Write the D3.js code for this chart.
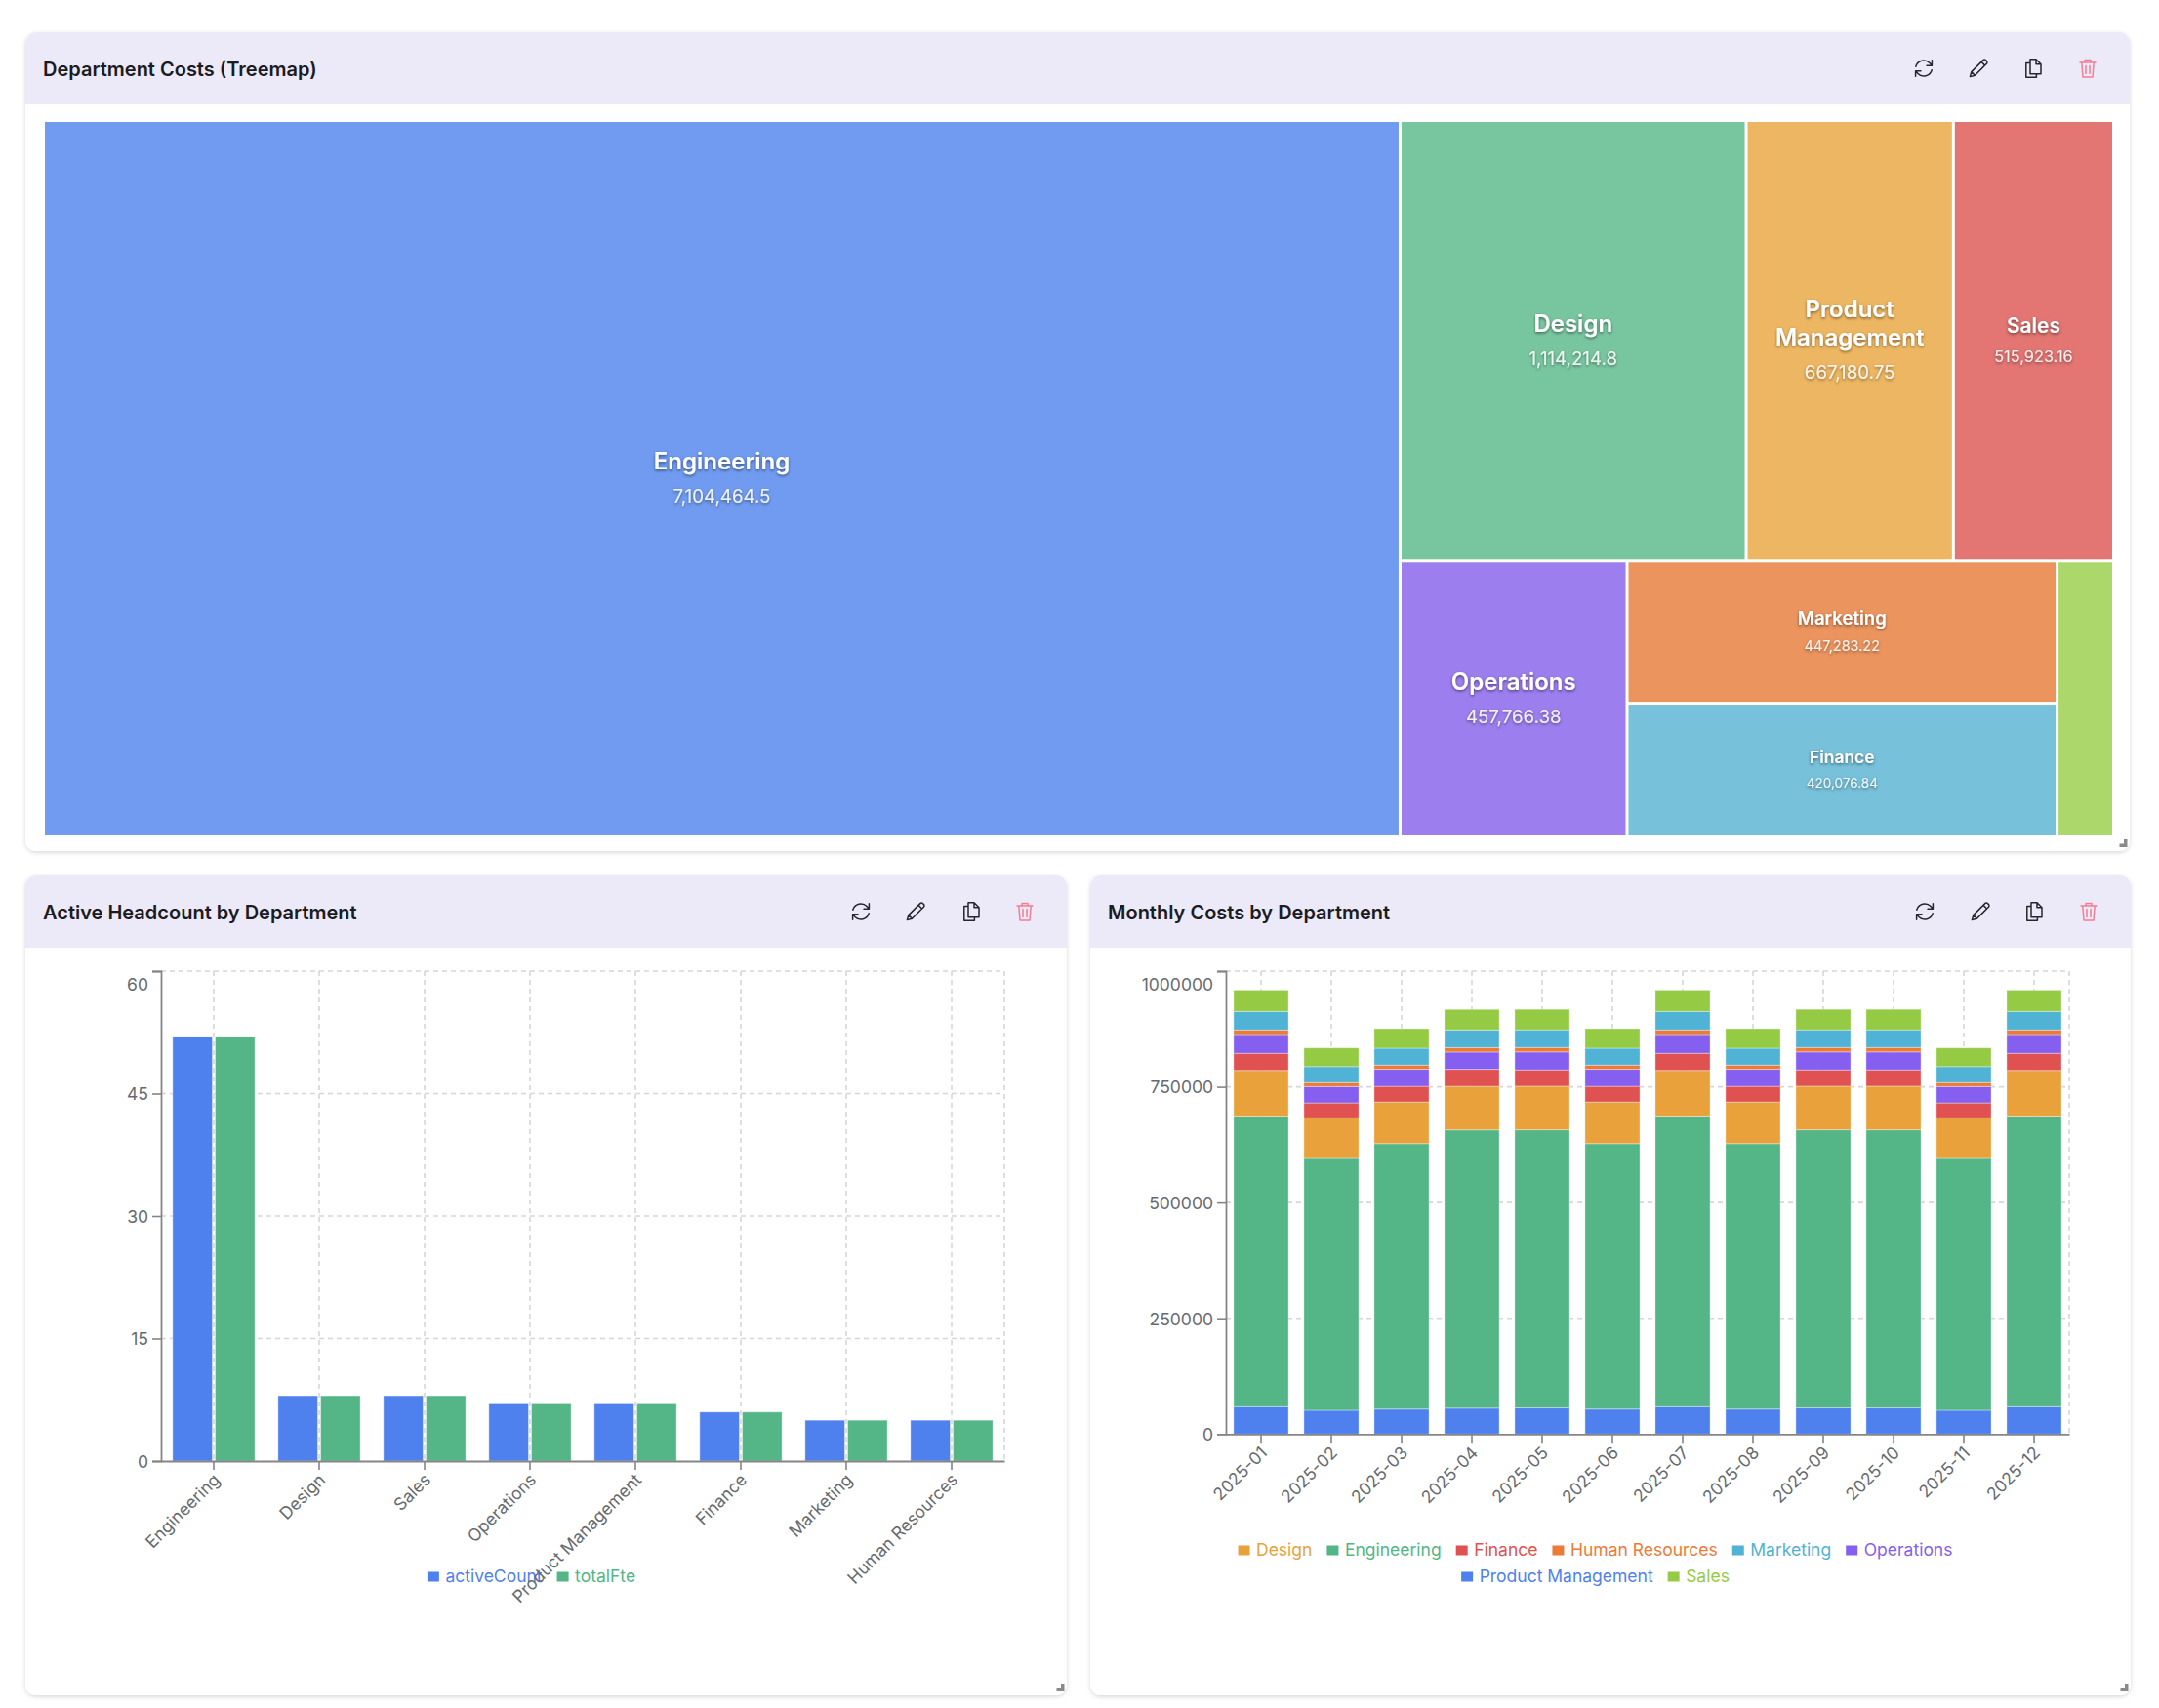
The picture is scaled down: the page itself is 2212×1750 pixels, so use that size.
<!DOCTYPE html>
<html><head><meta charset="utf-8">
<script src="https://cdnjs.cloudflare.com/ajax/libs/d3/7.8.5/d3.min.js"></script>
<style>
html,body{margin:0;padding:0;background:#fff}
svg{display:block;font-family:Inter,"Noto Sans",sans-serif}
</style></head><body><svg id="c" width="2212" height="1750"></svg>
<script>
// ---- data ----
const treeNames = ["Engineering","Design","Product Management","Sales","Operations","Marketing","Finance","Human Resources"];
const treeCosts = [7104464.5,1114214.8,667180.75,515923.16,457766.38,447283.22,420076.84,114000];
const treeLabels = ["7,104,464.5","1,114,214.8","667,180.75","515,923.16","457,766.38","447,283.22","420,076.84",""];
const hcDepts = ["Engineering","Design","Sales","Operations","Product Management","Finance","Marketing","Human Resources"];
const activeCount = [52,8,8,7,7,6,5,5];
const totalFte = [52,8,8,7,7,6,5,5];
const hcTicks = [0,15,30,45,60];
const months = ["2025-01","2025-02","2025-03","2025-04","2025-05","2025-06","2025-07","2025-08","2025-09","2025-10","2025-11","2025-12"];
const costTicks = [0,250000,500000,750000,1000000];
const costProduct = [59000,51300,53900,55900,56400,53900,59000,53900,56400,56400,51300,59000];
const costEngineering = [628000,546100,573400,601000,600700,573400,628000,573400,600700,600700,546100,628000];
const costDesign = [98500,85650,89900,94200,94200,89900,98500,89900,94200,94200,85650,98500];
const costFinance = [37000,32200,33800,36800,35400,33800,37000,33800,35400,35400,32200,37000];
const costOperations = [40500,35200,37000,37300,38700,37000,40500,37000,38700,38700,35200,40500];
const costHR = [10000,8700,9100,9600,9600,9100,10000,9100,9600,9600,8700,10000];
const costMarketing = [39800,34600,36300,38100,38100,36300,39800,36300,38100,38100,34600,39800];
const costSales = [46300,40300,42300,44300,44300,42300,46300,42300,44300,44300,40300,46300];
const legendOrder = ["Design","Engineering","Finance","Human Resources","Marketing","Operations","Product Management","Sales"];

// ---- styles ----
const BLUE="#4f81ee",GREEN="#54b686",AMBER="#e9a23b",RED="#e05252",PURPLE="#8560f0",ORANGE="#ec7b38",CYAN="#50b2d4",LIME="#95cb44";
const treeColor = {"Engineering":"#709bf0","Design":"#78c6a0","Product Management":"#edb662","Sales":"#e37572","Operations":"#9c7eee","Marketing":"#ec945e","Finance":"#77c1da","Human Resources":"#abd76b"};
const deptColor = {"Design":AMBER,"Engineering":GREEN,"Finance":RED,"Human Resources":ORANGE,"Marketing":CYAN,"Operations":PURPLE,"Product Management":BLUE,"Sales":LIME};
const AXIS="#858585",GRID="#d6d6d6",TICKTEXT="#666a70",FS=17.5;

const svg = d3.select("#c");
const defs = svg.append("defs");
const cf = defs.append("filter").attr("id","cardShadow").attr("x","-3%").attr("y","-3%").attr("width","106%").attr("height","106%");
cf.append("feDropShadow").attr("dx",0).attr("dy",1.5).attr("stdDeviation",2.2).attr("flood-color","#000").attr("flood-opacity",0.16);
const tf = defs.append("filter").attr("id","textShadow").attr("x","-20%").attr("y","-40%").attr("width","140%").attr("height","190%");
tf.append("feDropShadow").attr("dx",0).attr("dy",1.4).attr("stdDeviation",1.4).attr("flood-color","#000").attr("flood-opacity",0.5);

const ICONS=[
 {d:"M3.8 10.2A8.4 8.4 0 0 1 18 6.6L20.2 9 M20.4 3.8V9.2H15 M20.2 13.8A8.4 8.4 0 0 1 6 17.4L3.8 15 M3.6 20.2V14.8H9",c:"#26262c"},
 {d:"M3.4 20.6 4.8 15.6 16.8 3.6A1.8 1.8 0 0 1 19.4 3.6L20.4 4.6A1.8 1.8 0 0 1 20.4 7.2L8.4 19.2Z M15 5.4 18.6 9 M4.8 15.6 8.4 19.2",c:"#26262c"},
 {d:"M9 2.8H15L20 7.8V17.8H9Z M15 2.8V7.8H20 M9 6.6H4.8V21.2H15.4V17.8",c:"#26262c"},
 {d:"M4 6H20 M9 6V3.6H15V6 M5.8 6 7 21H17L18.2 6 M10 9.6V17.4 M14 9.6V17.4",c:"#f47e92"}
];
function card(x0,y0,x1,y1,title,iconXs){
  const r=11,hb=y0+74,g=svg.append("g");
  g.append("rect").attr("x",x0).attr("y",y0).attr("width",x1-x0).attr("height",y1-y0).attr("rx",r)
    .attr("fill","#fff").attr("filter","url(#cardShadow)");
  g.append("path").attr("d",`M${x0} ${hb}V${y0+r}A${r} ${r} 0 0 1 ${x0+r} ${y0}H${x1-r}A${r} ${r} 0 0 1 ${x1} ${y0+r}V${hb}Z`).attr("fill","#ece9f9");
  g.append("text").attr("x",x0+18).attr("y",y0+38).attr("dy","0.35em").attr("font-size",20).attr("font-weight",600).attr("fill","#1b1b22").text(title);
  iconXs.forEach((ix,i)=>{
    g.append("path").attr("transform",`translate(${ix-12},${y0+37-12})`).attr("d",ICONS[i].d)
     .attr("fill","none").attr("stroke",ICONS[i].c).attr("stroke-width",1.5).attr("stroke-linejoin","round").attr("stroke-linecap","round");
  });
  g.append("path").attr("d",`M${x1-6} ${y1-12}h3.5v8h-8v-3.5h4.5z`).attr("fill","#8a8a8a");
}
card(26,33,2182,872,"Department Costs (Treemap)",[1971,2027,2083,2139]);
card(26,897,1093,1737,"Active Headcount by Department",[882,938,995,1050]);
card(1117,897,2183,1737,"Monthly Costs by Department",[1972,2029,2084,2140]);

// ---- treemap ----
const root = d3.hierarchy({children:treeNames.map((n,i)=>({name:n,value:treeCosts[i],label:treeLabels[i]}))}).sum(d=>d.value||0);
d3.treemap().size([2115+3,728+3]).paddingInner(3).tile(d3.treemapSquarify)(root);
const tmG = svg.append("g").attr("transform","translate(46,125)");
const cell = tmG.selectAll("g").data(root.leaves()).join("g");
cell.append("rect").attr("x",d=>d.x0).attr("y",d=>d.y0).attr("width",d=>d.x1-d.x0).attr("height",d=>d.y1-d.y0).attr("fill",d=>treeColor[d.data.name]);
cell.each(function(d){
  const w=d.x1-d.x0,h=d.y1-d.y0; if(w<80) return;
  const fs=Math.min(24,Math.min(w,h)*0.13), vfs=fs*0.78, g=d3.select(this).append("g").attr("filter","url(#textShadow)").attr("fill","#fff").attr("text-anchor","middle");
  const lines = d.data.name.length*fs*0.56>w ? d.data.name.split(" ") : [d.data.name];
  const lh=fs*1.22, cx=(d.x0+d.x1)/2, cy=(d.y0+d.y1)/2, gap=fs*1.5;
  const top=cy-((lines.length-1)*lh+gap)/2;
  lines.forEach((t,i)=>g.append("text").attr("x",cx).attr("y",top+i*lh).attr("dy","0.35em").attr("font-size",fs).attr("font-weight",600).text(t));
  g.append("text").attr("x",cx).attr("y",top+(lines.length-1)*lh+gap).attr("dy","0.35em").attr("font-size",vfs).attr("fill-opacity",0.88).text(d.data.label);
});

// ---- shared helpers ----
function frame(xScale,yScale,ticks,fmt){
  const [y0,y1]=yScale.range(), x0=xScale.range()[0], x1=xScale.range()[1];
  const grid=svg.append("g").attr("fill","none").attr("stroke",GRID).attr("stroke-width",1.6).attr("stroke-dasharray","5 4");
  ticks.filter(t=>t>0).forEach(t=>grid.append("line").attr("x1",x0).attr("x2",x1).attr("y1",yScale(t)).attr("y2",yScale(t)));
  xScale.domain().forEach(v=>{const x=xScale(v)+xScale.bandwidth()/2;grid.append("line").attr("x1",x).attr("x2",x).attr("y1",y1).attr("y2",y0);});
  grid.append("line").attr("x1",x1).attr("x2",x1).attr("y1",y1).attr("y2",y0);
}
function axes(xScale,yScale,ticks,anchorDx){
  const [y0,y1]=yScale.range(), x0=xScale.range()[0];
  const ya=svg.append("g").attr("transform",`translate(${x0},0)`).call(d3.axisLeft(yScale).tickValues(ticks).tickSize(9).tickPadding(4).tickFormat(d3.format("d")));
  ya.select(".domain").attr("stroke",AXIS).attr("stroke-width",1.8);
  ya.selectAll(".tick line").attr("stroke",AXIS).attr("stroke-width",1.6);
  ya.selectAll(".tick text").attr("fill",TICKTEXT).attr("font-size",FS).attr("font-family","Inter").attr("dy",d=>d===ticks[ticks.length-1]?"1.1em":"0.36em");
  const xa=svg.append("g").attr("transform",`translate(0,${y0})`).call(d3.axisBottom(xScale).tickSize(9).tickSizeOuter(0));
  xa.select(".domain").attr("stroke",AXIS).attr("stroke-width",1.8);
  xa.selectAll(".tick line").attr("stroke",AXIS).attr("stroke-width",1.6);
  xa.selectAll(".tick text").attr("fill",TICKTEXT).attr("font-size",FS).attr("font-family","Inter")
    .attr("text-anchor","end").attr("dy","0.35em").attr("x",0).attr("y",0)
    .attr("transform",`translate(${anchorDx},16) rotate(-45)`);
}
function legend(items,colorOf,cx,y,maxW){
  const g=svg.append("g");
  const tmp=g.append("text").attr("font-size",FS);
  const widths=items.map(t=>{tmp.text(t);return tmp.node().getComputedTextLength();});
  tmp.remove();
  const rows=[[]];let cur=0;
  items.forEach((t,i)=>{const w=12+6.5+widths[i]+15;if(cur+w>maxW){rows.push([]);cur=0;}rows[rows.length-1].push(i);cur+=w;});
  rows.forEach((row,ri)=>{
    const tot=d3.sum(row,i=>12+6.5+widths[i]+15)-15;
    let x=cx-tot/2;const yy=y+ri*27;
    row.forEach(i=>{
      g.append("rect").attr("x",x).attr("y",yy-5).attr("width",12).attr("height",10).attr("fill",colorOf(items[i]));
      g.append("text").attr("x",x+18.5).attr("y",yy-0.5).attr("dy","0.35em").attr("font-size",FS).attr("fill",colorOf(items[i])).text(items[i]);
      x+=12+6.5+widths[i]+15;
    });
  });
}
const barStroke="rgba(255,255,255,0.35)";

// ---- grouped bars ----
const hx=d3.scaleBand().domain(hcDepts).range([165,1029]);
const hy=d3.scaleLinear().domain([0,60]).range([1497,995]);
frame(hx,hy,hcTicks);
const hSeries=[{key:"activeCount",vals:activeCount,color:BLUE},{key:"totalFte",vals:totalFte,color:GREEN}];
const hInner=d3.scaleBand().domain(hSeries.map(s=>s.key)).range([0,hx.bandwidth()*0.78]).paddingInner(0.07);
hSeries.forEach(s=>{
  svg.append("g").selectAll("rect").data(hcDepts).join("rect")
    .attr("x",(d)=>hx(d)+hx.bandwidth()*0.11+hInner(s.key)).attr("width",hInner.bandwidth())
    .attr("y",(d,i)=>hy(s.vals[i])).attr("height",(d,i)=>hy(0)-hy(s.vals[i]))
    .attr("fill",s.color).attr("stroke",barStroke);
});
legend(hSeries.map(s=>s.key),k=>hSeries.find(s=>s.key===k).color,544.5,1615.5,800);
axes(hx,hy,hcTicks,3);

// ---- stacked bars ----
const cx=d3.scaleBand().domain(months).range([1256,2120]);
const cy=d3.scaleLinear().domain([0,1000000]).range([1469.3,995]);
frame(cx,cy,costTicks);
const stackKeys=["Product Management","Engineering","Design","Finance","Operations","Human Resources","Marketing","Sales"];
const stackVals={"Product Management":costProduct,"Engineering":costEngineering,"Design":costDesign,"Finance":costFinance,"Operations":costOperations,"Human Resources":costHR,"Marketing":costMarketing,"Sales":costSales};
const rows=months.map((m,i)=>{const r={month:m};stackKeys.forEach(k=>r[k]=stackVals[k][i]);return r;});
svg.append("g").selectAll("g").data(d3.stack().keys(stackKeys)(rows)).join("g").attr("fill",d=>deptColor[d.key])
  .selectAll("rect").data(d=>d).join("rect")
  .attr("x",d=>cx(d.data.month)+cx.bandwidth()*0.11).attr("width",cx.bandwidth()*0.78)
  .attr("y",d=>cy(d[1])).attr("height",d=>cy(d[0])-cy(d[1])).attr("stroke",barStroke);
legend(legendOrder,k=>deptColor[k],1634.5,1588.5,800);
axes(cx,cy,costTicks,3);
</script></body></html>
